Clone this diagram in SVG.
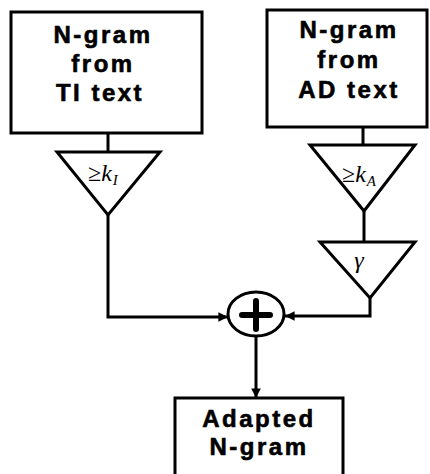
<svg xmlns="http://www.w3.org/2000/svg" width="430" height="474" viewBox="0 0 430 474">
<style>
.box{fill:#fff;stroke:#000;stroke-width:3}
.tri{fill:#fff;stroke:#000;stroke-width:3;stroke-linejoin:miter}
.ln{fill:none;stroke:#000;stroke-width:3}
.t{font-family:"Liberation Sans",Arial,sans-serif;font-weight:bold;font-size:24px;letter-spacing:2.5px;text-anchor:middle;fill:#000;stroke:#000;stroke-width:0.6}
.m{font-family:"Liberation Serif","Times New Roman",serif;font-size:24px;fill:#000}
</style>
<defs>
<marker id="ah" viewBox="0 0 10 10" refX="10" refY="5" markerWidth="4" markerHeight="3.2" orient="auto" markerUnits="strokeWidth">
<path d="M0,0 L10,5 L0,10 z" fill="#000"/>
</marker>
</defs>
<rect width="430" height="474" fill="#fff"/>
<g id="connectors">
<path class="ln" d="M108,133 V152"/>
<path class="ln" d="M363,127 V145"/>
<path class="ln" d="M364,211 V242"/>
<path class="ln" d="M108,215 V317 H228" marker-end="url(#ah)"/>
<path class="ln" d="M370,298 V316 H285" marker-end="url(#ah)"/>
<path class="ln" d="M256,336 V398" marker-end="url(#ah)"/>
</g>
<g id="ti-box">
<rect class="box" x="11" y="12" width="191" height="121"/>
<text class="t" x="103" y="43">N-gram</text>
<text class="t" x="103" y="72">from</text>
<text class="t" x="100" y="101">TI text</text>
</g>
<g id="ad-box">
<rect class="box" x="267" y="10" width="160" height="117"/>
<text class="t" x="349" y="38">N-gram</text>
<text class="t" x="349" y="68">from</text>
<text class="t" x="349" y="98">AD text</text>
</g>
<g id="thresh-ti">
<path class="tri" d="M57,152 H160 L108,215 Z"/>
<text class="m" x="88" y="181">≥<tspan font-style="italic">k</tspan><tspan font-style="italic" font-size="15" dy="4" dx="1">I</tspan></text>
</g>
<g id="thresh-ad">
<path class="tri" d="M310,145 H415 L364,211 Z"/>
<text class="m" x="342" y="182">≥<tspan font-style="italic">k</tspan><tspan font-style="italic" font-size="15" dy="4" dx="1">A</tspan></text>
</g>
<g id="gamma">
<path class="tri" d="M320,242 H415 L370,298 Z"/>
<text class="m" x="359" y="268" text-anchor="middle" font-style="italic" font-size="26">γ</text>
</g>
<g id="sum">
<ellipse cx="256" cy="314" rx="28" ry="22" fill="#fff" stroke="#000" stroke-width="3"/>
<path d="M242,315 H270 M256,301 V329" stroke="#000" stroke-width="6" stroke-linecap="round"/>
</g>
<g id="adapted-box">
<rect class="box" x="175" y="398" width="168" height="90"/>
<text class="t" x="259" y="427">Adapted</text>
<text class="t" x="259" y="455">N-gram</text>
</g>
</svg>
